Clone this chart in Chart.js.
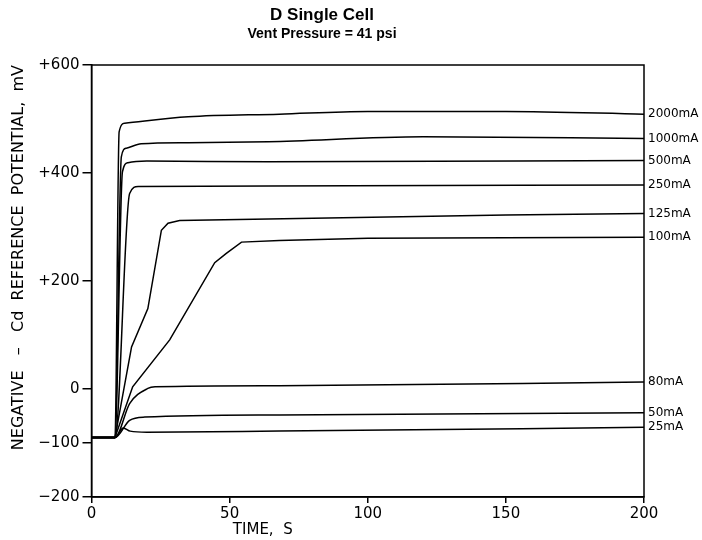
<!DOCTYPE html>
<html>
<head>
<meta charset="utf-8">
<script src="https://cdn.jsdelivr.net/npm/chart.js@4.4.0/dist/chart.umd.min.js"></script>
<style>
html, body { margin: 0; padding: 0; background: #fff; }
#wrap { width: 702px; height: 540px; }
</style>
</head>
<body>
<div id="wrap"><canvas id="chart" width="702" height="540"></canvas></div>
<script>
// values (time in s, potential in mV)
const currents = ["2000mA", "1000mA", "500mA", "250mA", "125mA", "100mA", "80mA", "50mA", "25mA"];

const t2000 = [0, 8.5, 10, 12, 35, 68, 100, 150, 200];
const v2000 = [-90, -90, 476, 492, 504, 509, 514, 514, 509];

const t1000 = [0, 8.5, 10.8, 12.6, 18, 35, 64, 120, 200];
const v1000 = [-90, -90, 430, 446, 454, 456, 458, 467, 464];

const t500 = [0, 8.5, 11.2, 13.2, 20, 64, 200];
const v500 = [-90, -90, 402, 419, 422, 421, 423];

const t250 = [0, 8.5, 13.8, 16.9, 64, 200];
const v250 = [-90, -90, 362, 375, 376, 378];

const t125 = [0, 8.5, 14.5, 20.4, 25.3, 27.7, 31.9, 64, 150, 200];
const v125 = [-90, -90, 78, 149, 294, 307, 312, 315, 322, 325];

const t100 = [0, 8.5, 14.9, 28.3, 44.6, 48.8, 54.3, 68, 100, 200];
const v100 = [-90, -90, 4, 91, 234, 251, 272, 275, 279, 281];

const t80 = [0, 8.5, 13.8, 20.4, 23, 68, 200];
const v80 = [-90, -90, -27, 1, 4, 6, 13];

const t50 = [0, 8.5, 13.8, 19.3, 68, 200];
const v50 = [-90, -90, -58, -52, -48, -44];

const t25 = [0, 8.5, 11.5, 14, 20, 68, 200];
const v25 = [-90, -90, -72, -78, -80, -78, -71];

const yTicks = [-200, -100, 0, 200, 400, 600];
const xTicks = [0, 50, 100, 150, 200];

const times = [t2000, t1000, t500, t250, t125, t100, t80, t50, t25];
const values = [v2000, v1000, v500, v250, v125, v100, v80, v50, v25];

// the two slow curves are drawn as straight segments
const straight = ["125mA", "100mA"];

function toPoints(ts, vs) {
    return ts.map((t, i) => ({ x: t, y: vs[i] }));
}

const datasets = currents.map((name, i) => ({
    label: name,
    data: toPoints(times[i], values[i]),
    borderColor: "#000",
    borderWidth: 1.5,
    pointRadius: 0,
    fill: false,
    tension: 0,
    cubicInterpolationMode: straight.includes(name) ? "default" : "monotone",
}));

// box round the plot, current labels at the line ends, x axis title
const extras = {
    id: "extras",
    afterDatasetsDraw(chart) {
        const ctx = chart.ctx;
        const a = chart.chartArea;
        ctx.save();
        ctx.strokeStyle = "#000";
        ctx.lineWidth = 1.5;
        ctx.strokeRect(a.left, a.top, a.right - a.left, a.bottom - a.top);

        ctx.fillStyle = "#000";
        ctx.font = "12px 'DejaVu Sans'";
        ctx.textAlign = "left";
        ctx.textBaseline = "middle";
        chart.data.datasets.forEach((ds, i) => {
            const meta = chart.getDatasetMeta(i);
            const last = meta.data[meta.data.length - 1];
            ctx.fillText(ds.label, a.right + 4, last.y);
        });

        ctx.font = "15px 'DejaVu Sans'";
        ctx.textAlign = "center";
        ctx.fillText("TIME,  S", a.left + (a.right - a.left) * 0.31, 530);
        ctx.restore();
    },
};

new Chart(document.getElementById("chart"), {
    type: "line",
    data: { datasets: datasets },
    options: {
        responsive: false,
        animation: false,
        layout: { padding: { right: 58, top: 0, left: 0, bottom: 0 } },
        plugins: {
            legend: { display: false },
            tooltip: { enabled: false },
            title: {
                display: true,
                text: "D Single Cell",
                color: "#000",
                font: { family: "'Liberation Sans'", size: 17, weight: "bold" },
                padding: { top: 5, bottom: 0 },
            },
            subtitle: {
                display: true,
                text: "Vent Pressure = 41 psi",
                color: "#000",
                font: { family: "'Liberation Sans'", size: 14, weight: "bold" },
                padding: { top: 0, bottom: 22.8 },
            },
        },
        scales: {
            x: {
                type: "linear",
                min: 0,
                max: 200,
                afterBuildTicks: (scale) => {
                    scale.ticks = xTicks.map((v) => ({ value: v }));
                },
                afterFit: (scale) => { scale.height = 43; },
                ticks: {
                    color: "#000",
                    font: { family: "'DejaVu Sans'", size: 15 },
                    maxRotation: 0,
                    padding: 2,
                },
                grid: {
                    display: true,
                    drawOnChartArea: false,
                    drawTicks: true,
                    tickLength: 6,
                    color: "#000",
                    lineWidth: 1.5,
                },
                border: { display: true, color: "#000", width: 1.5 },
            },
            y: {
                min: -200,
                max: 600,
                afterBuildTicks: (scale) => {
                    scale.ticks = yTicks.map((v) => ({ value: v }));
                },
                afterFit: (scale) => { scale.width = 91.5; },
                ticks: {
                    color: "#000",
                    font: { family: "'DejaVu Sans'", size: 15 },
                    padding: 3,
                    callback: (v) => (v > 0 ? "+" + v : v < 0 ? "\u2212" + Math.abs(v) : "0"),
                },
                grid: {
                    display: true,
                    drawOnChartArea: false,
                    drawTicks: true,
                    tickLength: 9,
                    color: "#000",
                    lineWidth: 1.5,
                },
                border: { display: true, color: "#000", width: 1.5 },
                title: {
                    display: true,
                    text: "NEGATIVE   \u2013   Cd  REFERENCE  POTENTIAL,  mV",
                    align: "end",
                    color: "#000",
                    font: { family: "'DejaVu Sans'", size: 16 },
                    padding: { top: 9, bottom: 0 },
                },
            },
        },
    },
    plugins: [extras],
});
</script>
</body>
</html>
